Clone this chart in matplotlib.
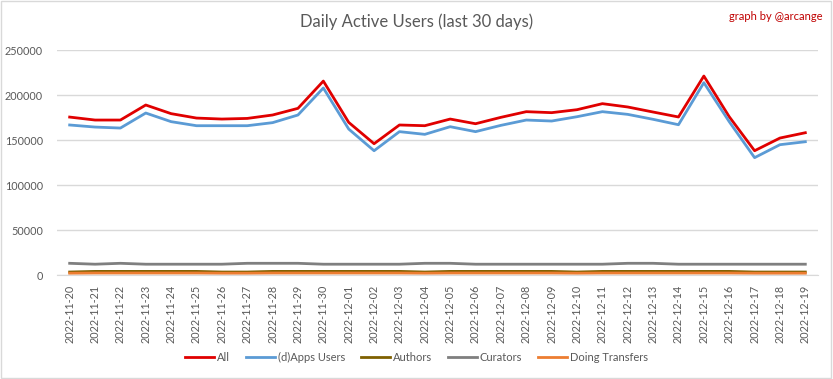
import matplotlib
matplotlib.use("Agg")
import matplotlib.pyplot as plt

plt.rcParams['font.family'] = ['Lato', 'DejaVu Sans']

dates = ["2022-11-20", "2022-11-21", "2022-11-22", "2022-11-23", "2022-11-24",
         "2022-11-25", "2022-11-26", "2022-11-27", "2022-11-28", "2022-11-29",
         "2022-11-30", "2022-12-01", "2022-12-02", "2022-12-03", "2022-12-04",
         "2022-12-05", "2022-12-06", "2022-12-07", "2022-12-08", "2022-12-09",
         "2022-12-10", "2022-12-11", "2022-12-12", "2022-12-13", "2022-12-14",
         "2022-12-15", "2022-12-16", "2022-12-17", "2022-12-18", "2022-12-19"]

all_users = [175500, 172200, 172200, 188900, 179300, 174400, 173300, 174000, 177800, 185200,
             215500, 169600, 145900, 166700, 165900, 173300, 168100, 175200, 181500, 180400,
             183700, 190400, 186700, 181100, 175600, 221100, 175900, 138100, 152200, 158100]
dapps_users = [166700, 164400, 163300, 180000, 170400, 165900, 165900, 165900, 169300, 177800,
               207800, 162200, 138100, 159300, 156300, 164800, 159300, 166300, 172200, 171100,
               175900, 181500, 178500, 173000, 167000, 213700, 170400, 130400, 144800, 148100]
authors = [3300, 4000, 4000, 4000, 4000, 4000, 3300, 3300, 4000, 4000,
           4000, 4000, 4000, 4000, 3300, 4000, 4000, 4000, 4000, 4000,
           3300, 4000, 4000, 4000, 4000, 4000, 4000, 3300, 3300, 3300]
curators = [13000, 12000, 13000, 12000, 12000, 12000, 12000, 13000, 13000, 13000,
            12000, 12000, 12000, 12000, 13000, 13000, 12000, 12000, 12000, 12000,
            12000, 12000, 13000, 13000, 12000, 12000, 12000, 12000, 12000, 12000]
transfers = [2000, 2200, 2200, 2200, 2200, 2200, 2000, 2000, 2200, 2200,
             2200, 2200, 2200, 2200, 2000, 2200, 2200, 2200, 2200, 2200,
             2000, 2200, 2200, 2200, 2200, 2200, 2200, 2000, 2000, 2000]

series = [
    ("All", all_users, "#e00000"),
    ("(d)Apps Users", dapps_users, "#5b9bd5"),
    ("Authors", authors, "#7f6000"),
    ("Curators", curators, "#7f7f7f"),
    ("Doing Transfers", transfers, "#ed7d31"),
]

text_color = "#595959"
grid_color = "#d9d9d9"

fig = plt.figure(figsize=(8.33, 3.79), dpi=100)
ax = fig.add_axes([0.0684, 0.2744, 0.9136, 0.5936])

x = list(range(len(dates)))
for name, values, color in series:
    ax.plot(x, values, color=color, linewidth=2.0, label=name)

ax.set_xlim(-0.5, len(dates) - 0.5)
ax.set_ylim(0, 250000)
ax.set_yticks(range(0, 250001, 50000))
ax.set_xticks(x)
ax.set_xticklabels(dates, rotation=90)
ax.tick_params(axis="both", length=0, colors=text_color, labelsize=7.8)
ax.tick_params(axis="x", pad=7)
ax.tick_params(axis="y", pad=10)
ax.grid(axis="y", color=grid_color, linewidth=1)
ax.set_axisbelow(True)
for side in ["top", "right", "left"]:
    ax.spines[side].set_visible(False)
ax.spines["bottom"].set_color(grid_color)

fig.text(0.5, 1 - 22 / 379, "Daily Active Users (last 30 days)", ha="center", va="center",
         fontsize=12, color=text_color)
fig.text(0.987, 1 - 16 / 379, "graph by @arcange", ha="right", va="center",
         fontsize=8, color="#c00000")

fig.legend(loc="center", bbox_to_anchor=(0.5, 1 - 357 / 379), ncol=5, frameon=False,
           fontsize=8, handlelength=2.6, columnspacing=1.4, handletextpad=0.3,
           labelcolor=text_color)

fig.patches.append(plt.Rectangle((0.001, 0.002), 0.997, 0.996, transform=fig.transFigure,
                                 fill=False, edgecolor=grid_color, linewidth=1))

fig.savefig("out.png", dpi=100)
